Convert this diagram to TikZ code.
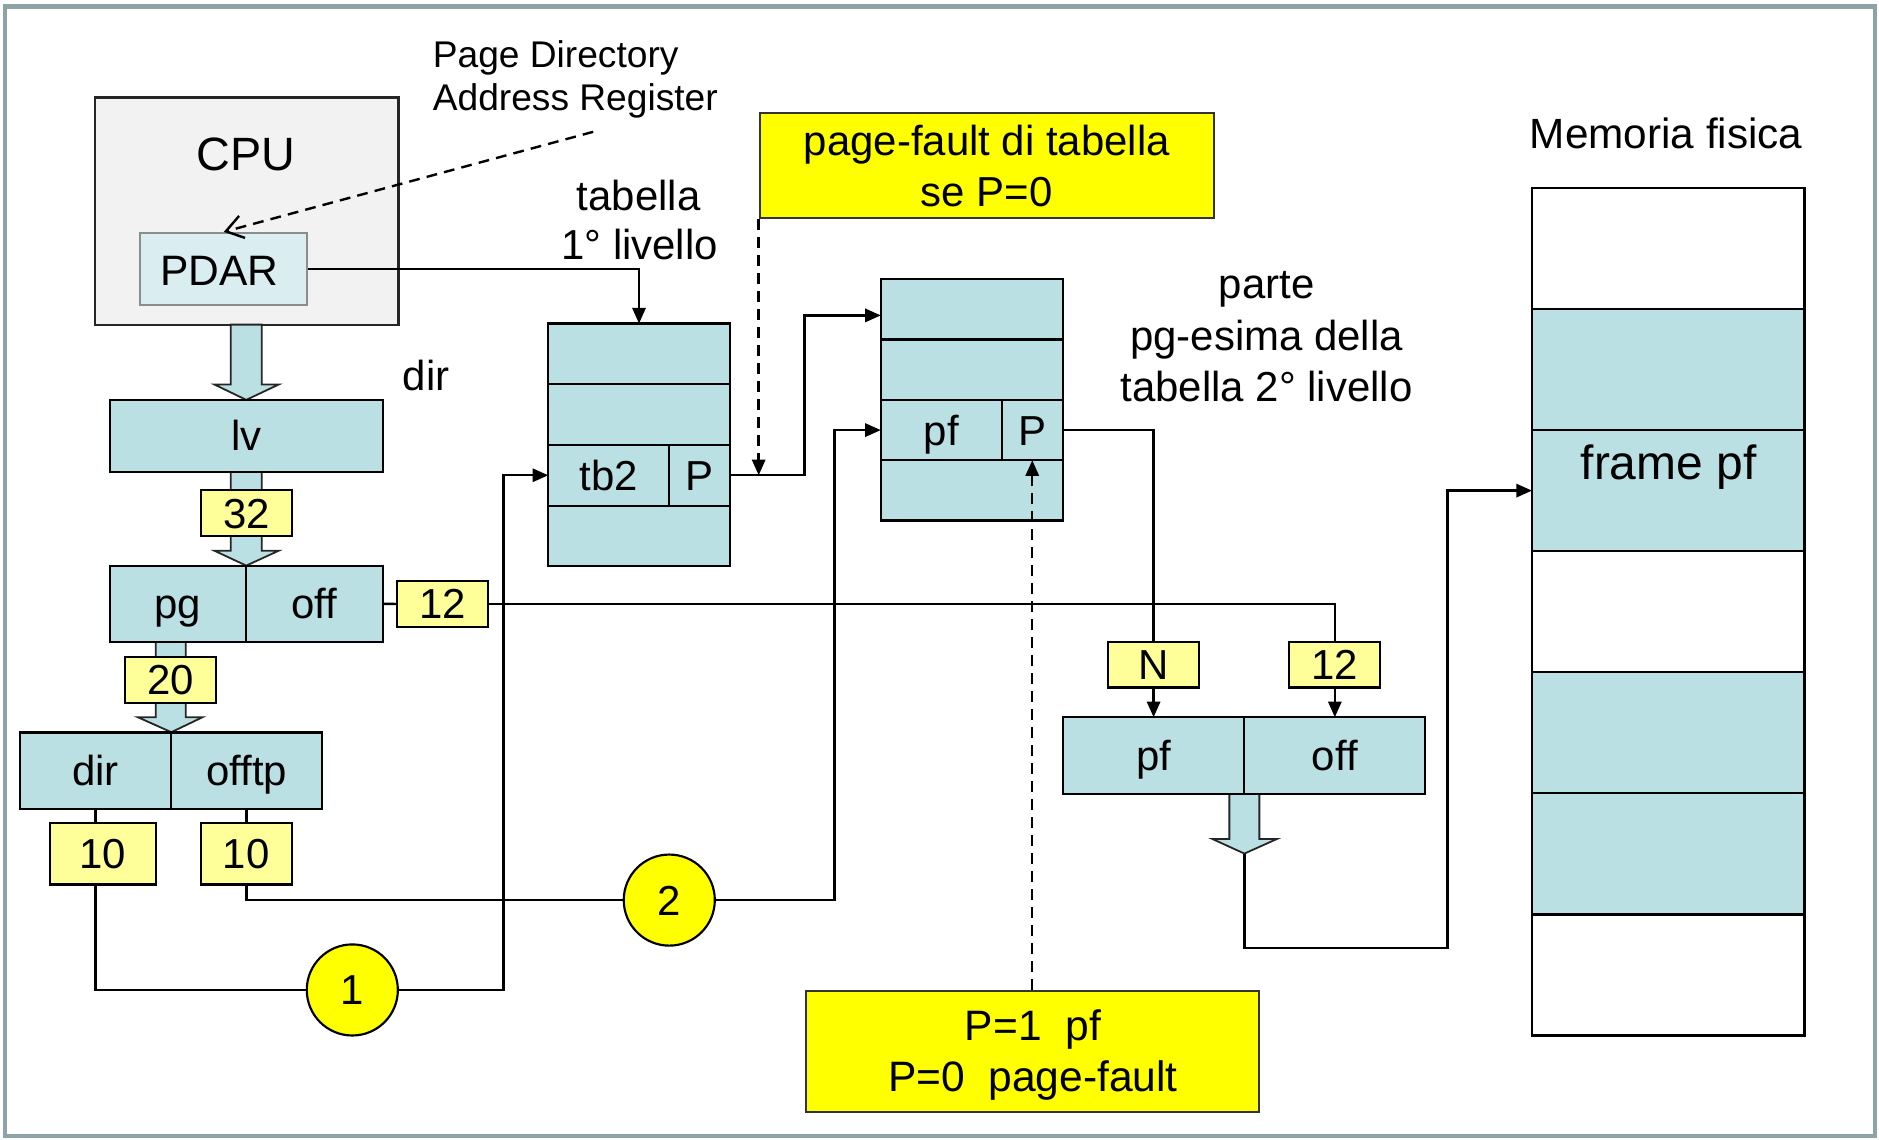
\documentclass[tikz,border=0pt]{standalone}
\usepackage{fontspec}
\setmainfont{Liberation Sans}
\usetikzlibrary{arrows.meta,calc}
\definecolor{cellblue}{RGB}{187,224,227}
\definecolor{lyel}{RGB}{255,255,153}
\definecolor{byel}{RGB}{255,255,0}
\definecolor{cpug}{RGB}{242,242,242}
\definecolor{pdarc}{RGB}{218,238,241}
\definecolor{framec}{RGB}{142,163,168}
\newcommand\fsz[1]{\fontsize{#1}{#1}\selectfont}
\begin{document}
\begin{tikzpicture}[x=1pt,y=-1pt,
  cell/.style={draw=black,line width=1.8pt,fill=cellblue,inner sep=0pt,outer sep=0pt,font=\fsz{35},text height=25pt,text depth=0pt},
  ycell/.style={cell,fill=lyel},
  memcell/.style={draw=black,line width=2pt,inner sep=0pt,outer sep=0pt,minimum width=227.5pt,minimum height=101.03pt},
  conn/.style={line width=2pt,draw=black},
  arr/.style={conn,-{Triangle[length=13pt,width=11pt]}},
  dsh/.style={dash pattern=on 9pt off 6pt},
  fat/.style={draw=black!85,line width=1.5pt,fill=cellblue,line join=miter},
  txt/.style={inner sep=0pt,anchor=base},
  bigbox/.style={draw=black!80,line width=1.8pt,fill=byel,inner sep=0pt},
]
\path[use as bounding box] (0,0) rectangle (1568,950.5);
\draw[framec,line width=3.5pt] (4.5,5.5) rectangle (1564.5,948);

% CPU
\node[draw=black!85,line width=1.8pt,fill=cpug,minimum width=253.5pt,minimum height=189.6pt,inner sep=0pt] (cpu) at (205.75,176.1) {};
\node[txt,font=\fsz{39}] (cpulbl) at (205.5,142.6) {CPU};
\node[draw=black!45,line width=1.8pt,fill=pdarc,minimum width=139.5pt,minimum height=60.4pt,inner sep=0pt] (pdar) at (186.75,224.6) {};
\node[txt,font=\fsz{35.5}] (pdarl) at (183,238.1) {PDAR};

% Page Directory label
\node[txt,anchor=base west,font=\fsz{31}] (pdl1) at (361,56.1) {Page Directory};
\node[txt,anchor=base west,font=\fsz{31}] (pdl2) at (361,92.5) {Address Register};
\coordinate (pdsrc) at (495,110);
\draw[conn,dsh,-{Straight Barb[length=14pt,width=19pt]}] (pdsrc) -- (pdar.north);

% fat arrows
\draw[fat] (192.5,270.9) -- (218.5,270.9) -- (218.5,320.9) -- (232.5,320.9) -- (205.5,333.7) -- (179,320.9) -- (192.5,320.9) -- cycle;
\draw[fat] (192.5,393.7) -- (218.5,393.7) -- (218.5,459.6) -- (232.5,459.6) -- (205.5,472) -- (179,459.6) -- (192.5,459.6) -- cycle;
\draw[fat] (130,535.8) -- (155,535.8) -- (155,598.5) -- (169,598.5) -- (143,611) -- (115,598.5) -- (130,598.5) -- cycle;
\draw[fat] (1025.9,662.3) -- (1050.9,662.3) -- (1050.9,700.2) -- (1065.4,700.2) -- (1038.4,712.3) -- (1011.9,700.2) -- (1025.9,700.2) -- cycle;
\coordinate (fattip) at (1038.4,712.3);

% left column
\node[cell,minimum width=228pt,minimum height=60pt] (lv) at (205.5,363.7) {lv};
\node[ycell,minimum width=76.5pt,minimum height=38.5pt] (n32) at (205.75,428.15) {32};
\node[cell,minimum width=113.5pt,minimum height=63.8pt] (pg) at (148.25,503.9) {pg};
\node[cell,minimum width=114.5pt,minimum height=63.8pt] (off) at (262.25,503.9) {off};
\node[ycell,minimum width=76pt,minimum height=38.5pt] (n12a) at (369.5,504) {12};
\node[ycell,minimum width=75.5pt,minimum height=37.9pt] (n20) at (142.25,567.45) {20};
\node[cell,minimum width=126.5pt,minimum height=63.7pt] (dir) at (79.75,643.15) {dir};
\node[cell,minimum width=125.5pt,minimum height=63.7pt] (offtp) at (205.75,643.15) {offtp};
\node[ycell,minimum width=88.5pt,minimum height=51pt] (n10a) at (85.75,712.6) {10};
\node[ycell,minimum width=76pt,minimum height=51pt] (n10b) at (205.5,712.6) {10};

% circles
\node[circle,draw=black,line width=1.8pt,fill=byel,minimum size=76pt,inner sep=0pt,font=\fsz{35},text height=25pt,text depth=0pt] (c1) at (294,826.1) {1};
\node[circle,draw=black,line width=1.8pt,fill=byel,minimum size=76pt,inner sep=0pt,font=\fsz{35},text height=25pt,text depth=0pt] (c2) at (558.5,751.1) {2};

% labels
\node[txt,font=\fsz{35}] (dirl) at (355.5,326.1) {dir};
\node[txt,font=\fsz{35}] (tab1a) at (533,175.3) {tabella};
\node[txt,font=\fsz{35}] (tab1b) at (533.75,216.9) {1° livello};

% table 1
\node[cell,minimum width=151.5pt,minimum height=50.65pt] (t1a) at (533.25,295.3) {};
\node[cell,minimum width=151.5pt,minimum height=50.65pt] (t1b) at (533.25,346) {};
\node[cell,minimum width=101pt,minimum height=50.65pt] (tb2) at (508,396.6) {tb2};
\node[cell,minimum width=50.5pt,minimum height=50.65pt] (t1p) at (583.75,396.6) {P};
\node[cell,minimum width=151.5pt,minimum height=50.65pt] (t1d) at (533.25,447.3) {};

% table 2
\node[cell,minimum width=151.9pt,minimum height=50.35pt] (t2a) at (810.95,258.2) {};
\node[cell,minimum width=151.9pt,minimum height=50.35pt] (t2b) at (810.95,308.5) {};
\node[cell,minimum width=100.9pt,minimum height=50.35pt] (t2pf) at (785.45,358.9) {pf};
\node[cell,minimum width=51pt,minimum height=50.35pt] (t2p) at (861.4,358.9) {P};
\node[cell,minimum width=151.9pt,minimum height=50.35pt] (t2d) at (810.95,409.2) {};

\node[txt,font=\fsz{35}] (pa1) at (1056.9,249.3) {parte};
\node[txt,font=\fsz{35}] (pa2) at (1056.9,292.1) {pg-esima della};
\node[txt,font=\fsz{35}] (pa3) at (1056.9,335.2) {tabella 2° livello};

% physical address
\node[ycell,minimum width=75.5pt,minimum height=37.9pt] (nN) at (962.65,554.75) {N};
\node[ycell,minimum width=76pt,minimum height=37.9pt] (n12b) at (1113.9,554.75) {12};
\node[cell,minimum width=151.5pt,minimum height=63.8pt] (pf3) at (962.65,630.4) {pf};
\node[cell,minimum width=151pt,minimum height=63.8pt] (off3) at (1113.9,630.4) {off};

% memory
\node[txt,font=\fsz{35.3}] (meml) at (1390.4,123.8) {Memoria fisica};
\node[memcell,fill=white] (m1) at (1392.15,207.3) {};
\node[memcell,fill=cellblue] (m2) at (1392.15,308.3) {};
\node[memcell,fill=cellblue] (m3) at (1392.15,409.4) {};
\node[memcell,fill=white] (m4) at (1392.15,510.4) {};
\node[memcell,fill=cellblue] (m5) at (1392.15,611.4) {};
\node[memcell,fill=cellblue] (m6) at (1392.15,712.5) {};
\node[memcell,fill=white] (m7) at (1392.15,813.5) {};
\node[txt,font=\fsz{40}] (frl) at (1392.4,399.8) {frame pf};

% yellow notes
\node[bigbox,minimum width=379.4pt,minimum height=88pt] (pfbox) at (823.7,138) {};
\node[txt,font=\fsz{35}] (pft1) at (823.5,129.8) {page-fault di tabella};
\node[txt,font=\fsz{35}] (pft2) at (823.3,172.3) {se P=0};
\node[bigbox,minimum width=378.4pt,minimum height=101pt] (pbox) at (861.7,877.2) {};
\node[txt,font=\fsz{35.5}] (pbt1) at (862,868.5) {P=1\ \ pf};
\node[txt,font=\fsz{35.5}] (pbt2) at (862,911) {P=0\ \ page-fault};

% connectors
\draw[arr] (pdar.east) -| (t1a.north);
\draw[conn] (off.east) -- (n12a.west);
\draw[conn] (n12a.east) -| (n12b.north);
\draw[conn] (dir.south) -- (dir.south |- n10a.north);
\draw[conn] (offtp.south) -- (offtp.south |- n10b.north);
\draw[conn] (dir.south |- n10a.south) |- (c1.west);
\draw[arr] (c1.east) -| ([xshift=-37.5pt]tb2.west) -- (tb2.west);
\draw[conn] (offtp.south |- n10b.south) |- (c2.west);
\draw[arr] (c2.east) -| ([xshift=-38.5pt]t2pf.west) -- (t2pf.west);
\draw[arr] (t1p.east) -- ++(62.5,0) |- ([yshift=-5pt]t2a.west);
\draw[conn,dsh,-{Triangle[length=13pt,width=11pt]}] (pfbox.south west) -- (pfbox.south west |- t1p.east);
\draw[conn] (t2p.east) -| (nN.north);
\draw[arr] (nN.south) -- (pf3.north);
\draw[arr] (n12b.south) -- (off3.north);
\draw[arr] (fattip) -- ++(0,78.9) -| ([xshift=-70.5pt]m3.west) -- (m3.west);
\draw[conn,dsh,-{Triangle[length=13pt,width=11pt]}] (t2p.south |- pbox.north) -- (t2p.south);
\end{tikzpicture}
\end{document}
